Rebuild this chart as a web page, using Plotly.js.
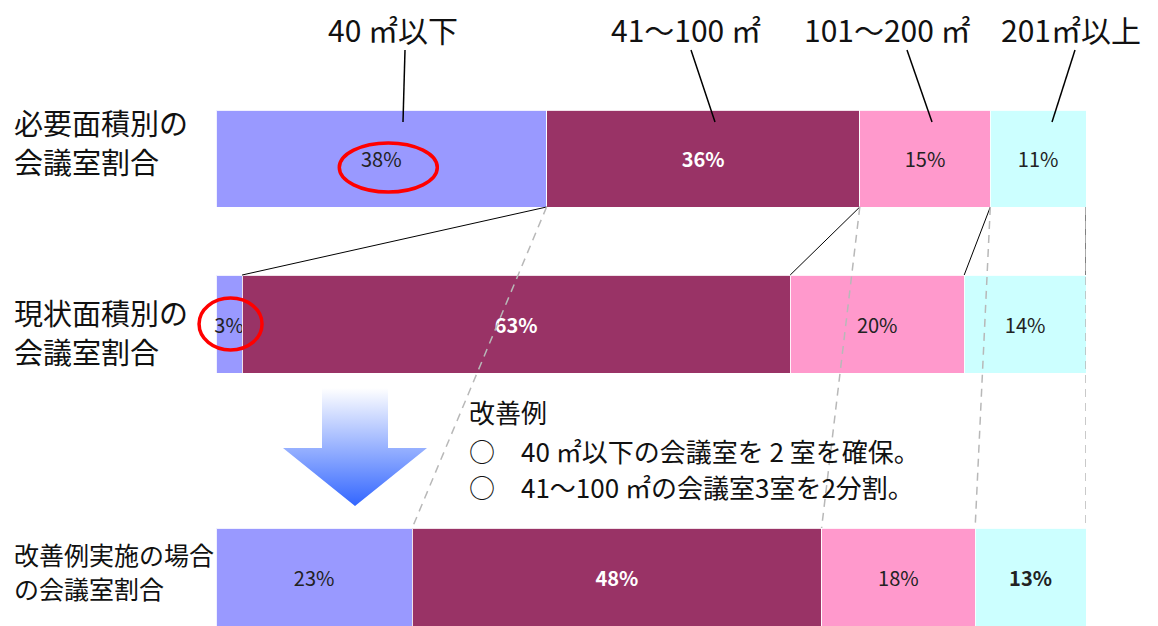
<!DOCTYPE html>
<html>
<head>
<meta charset="utf-8">
<script src="https://cdn.plot.ly/plotly-3.0.1.min.js"></script>
<style>
  html, body { margin: 0; padding: 0; background: #ffffff; }
  #chart { width: 1158px; height: 626px; }
</style>
</head>
<body>
<div id="chart"></div>
<script>
// 面積区分（見出し）
const sizeClasses = ['40 ㎡以下', '41～100 ㎡', '101～200 ㎡', '201㎡以上'];
// 行ラベル（1 行目・2 行目）
const rowLabels = [
  ['必要面積別の', '会議室割合'],
  ['現状面積別の', '会議室割合'],
  ['改善例実施の場合', 'の会議室割合']
];
// 会議室割合（%）
const requiredShare = [38, 36, 15, 11];
const currentShare = [3, 63, 20, 14];
const improvedShare = [23, 48, 18, 13];
// 改善例の説明
const improvementTitle = '改善例';
const improvementItems = ['○　40 ㎡以下の会議室を 2 室を確保。', '○　41～100 ㎡の会議室3室を2分割。'];

const W = 1158, H = 626;
const JP = '"Noto Sans CJK JP", "Noto Sans", sans-serif';
const segColors = ['#9999ff', '#993366', '#ff99cc', '#ccffff'];
const rows = [requiredShare, currentShare, improvedShare];
const yNames = ['y', 'y2', 'y3'];

// bar band geometry (pixels from top)
const plotLeft = 216, plotRight = 1086;
const bands = [[110, 207], [275, 373], [528, 626]];
const yDomain = b => [1 - b[1] / H, 1 - b[0] / H];
const doms = bands.map(yDomain);
const px = x => x / W;
const py = y => 1 - y / H;
// percentage on the bar axis -> paper fraction (for marks drawn outside the axis clip)
const pctToPaper = p => px(plotLeft + p / 100 * (plotRight - plotLeft));

// cumulative boundaries, normalised to 100
function cumulative(v) {
  const total = v.reduce((a, b) => a + b, 0);
  let c = 0;
  return v.map(x => (c += x) / total * 100);
}
const cumRows = rows.map(cumulative);

const traces = [];
rows.forEach((vals, r) => {
  vals.forEach((v, s) => {
    const strong = s === 1 || (r === 2 && s === 3);
    traces.push({
      type: 'bar',
      orientation: 'h',
      name: sizeClasses[s],
      x: [v],
      y: [rowLabels[r].join('')],
      xaxis: 'x',
      yaxis: yNames[r],
      marker: { color: segColors[s], line: { color: 'rgba(255,255,255,0.85)', width: 1 } },
      text: [v + '%'],
      textposition: 'inside',
      insidetextanchor: 'middle',
      textangle: 0,
      cliponaxis: false,
      textfont: {
        family: JP,
        size: 20,
        color: s === 1 ? '#ffffff' : '#222222',
        weight: strong ? 'bold' : 'normal'
      },
      hoverinfo: 'skip'
    });
  });
});

// downward arrow with a vertical fade
traces.push({
  type: 'scatter',
  mode: 'lines',
  x: [322, 388, 388, 427, 355, 283, 322, 322],
  y: [388, 388, 448, 448, 506, 448, 448, 388],
  xaxis: 'x2',
  yaxis: 'y4',
  fill: 'toself',
  line: { width: 0, color: 'rgba(0,0,0,0)' },
  fillgradient: {
    type: 'vertical',
    start: 388,
    stop: 506,
    colorscale: [[0, '#ffffff'], [1, '#3366ff']]
  },
  hoverinfo: 'skip'
});

const shapes = [];
// solid connectors: required -> current
for (let i = 0; i < 4; i++) {
  shapes.push({
    type: 'line', xref: 'x', yref: 'paper',
    x0: cumRows[0][i], y0: doms[0][0], x1: cumRows[1][i], y1: doms[1][1],
    line: { color: '#000000', width: 1 }
  });
}
// dashed connectors: required -> improved
for (let i = 0; i < 4; i++) {
  shapes.push({
    type: 'line', xref: 'x', yref: 'paper',
    x0: cumRows[0][i], y0: doms[0][0], x1: cumRows[2][i], y1: doms[2][1],
    line: { color: '#b8b8b8', width: 1.5, dash: '8px,6px' }
  });
}
// red rings around the smallest-class shares
const bandCentre = r => (doms[r][0] + doms[r][1]) / 2;
shapes.push({
  type: 'circle', xref: 'paper', yref: 'paper',
  xsizemode: 'pixel', ysizemode: 'pixel',
  xanchor: pctToPaper(rows[0][0] / 2), yanchor: bandCentre(0),
  x0: -42, x1: 56, y0: -33.5, y1: 15.5,
  line: { color: '#ff0000', width: 3.5 }
});
shapes.push({
  type: 'circle', xref: 'paper', yref: 'paper',
  xsizemode: 'pixel', ysizemode: 'pixel',
  xanchor: pctToPaper(rows[1][0] / 2), yanchor: bandCentre(1),
  x0: -30, x1: 33, y0: -26, y1: 26,
  line: { color: '#ff0000', width: 3.5 }
});
// callout lines from the class headings
const callouts = [[403, 122, 405, 50], [715, 122, 691, 50], [932, 122, 907, 50], [1052, 122, 1075, 50]];
callouts.forEach(c => shapes.push({
  type: 'line', xref: 'paper', yref: 'paper',
  x0: px(c[0]), y0: py(c[1]), x1: px(c[2]), y1: py(c[3]),
  line: { color: '#000000', width: 1.5 }
}));

const annotations = [];
const headX = [393, 686, 887, 1071];
sizeClasses.forEach((t, i) => annotations.push({
  text: t, xref: 'paper', yref: 'paper', x: px(headX[i]), y: py(29),
  xanchor: 'center', yanchor: 'middle', showarrow: false,
  font: { family: JP, size: 30, color: '#111111' }
}));
const rowLabelY = [[122, 161], [312, 351], [554, 588]];
const rowLabelSize = [29, 29, 25];
rowLabels.forEach((lines, i) => lines.forEach((t, j) => annotations.push({
  text: t, xref: 'paper', yref: 'paper', x: px(12), y: py(rowLabelY[i][j]),
  xanchor: 'left', yanchor: 'middle', align: 'left', showarrow: false,
  font: { family: JP, size: rowLabelSize[i], color: '#111111' }
})));
const noteLines = [improvementTitle].concat(improvementItems);
const noteY = [411, 450, 487];
noteLines.forEach((t, i) => annotations.push({
  text: t, xref: 'paper', yref: 'paper', x: px(467), y: py(noteY[i]),
  xanchor: 'left', yanchor: 'middle', align: 'left', showarrow: false,
  font: { family: JP, size: 26, color: '#111111' }
}));

const hiddenCat = d => ({ domain: d, type: 'category', range: [-0.5, 0.5], visible: false, anchor: 'x', fixedrange: true });

const layout = {
  width: W, height: H,
  margin: { l: 0, r: 0, t: 0, b: 0 },
  paper_bgcolor: '#ffffff',
  plot_bgcolor: 'rgba(0,0,0,0)',
  showlegend: false,
  barmode: 'stack',
  barnorm: 'percent',
  bargap: 0,
  uniformtext: { mode: 'show', minsize: 20 },
  font: { family: JP, color: '#111111' },
  xaxis: { domain: [px(plotLeft), px(plotRight)], range: [0, 100], visible: false, anchor: 'y', fixedrange: true },
  yaxis: hiddenCat(doms[0]),
  yaxis2: hiddenCat(doms[1]),
  yaxis3: hiddenCat(doms[2]),
  xaxis2: { domain: [0, 1], range: [0, W], visible: false, anchor: 'y4', fixedrange: true },
  yaxis4: { domain: [0, 1], range: [H, 0], visible: false, anchor: 'x2', fixedrange: true },
  shapes: shapes,
  annotations: annotations
};

Plotly.newPlot('chart', traces, layout, { displayModeBar: false, staticPlot: true });
</script>
</body>
</html>
